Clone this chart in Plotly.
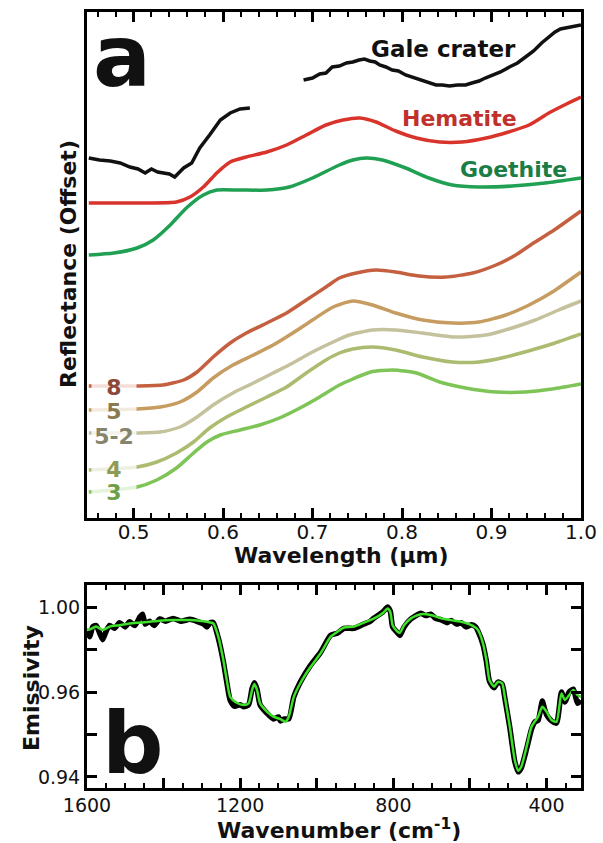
import plotly.graph_objects as go

W, H = 603, 843
FONT = "DejaVu Sans"

# ---------------- Panel a data (relative reflectance, offset, arbitrary units) -------------
gale_wl = [0.45, 0.462, 0.474, 0.485, 0.496, 0.505, 0.513, 0.520, 0.527, 0.533, 0.540, 0.546,
           0.551, 0.556, 0.565, 0.574, 0.585, 0.597, 0.608, 0.619, 0.630,
           0.66,
           0.690, 0.700, 0.708, 0.715, 0.722, 0.730, 0.738, 0.745, 0.752, 0.758, 0.764, 0.770,
           0.775, 0.782, 0.789, 0.796, 0.804, 0.811, 0.819, 0.828, 0.838, 0.845, 0.853, 0.862,
           0.871, 0.878, 0.886, 0.893, 0.901, 0.910, 0.920, 0.929, 0.938, 0.947, 0.956, 0.963,
           0.971, 0.977, 0.983, 0.990, 0.997, 1.0]
gale_r = [3.60, 3.58, 3.57, 3.55, 3.51, 3.49, 3.45, 3.49, 3.46, 3.45, 3.44, 3.41,
          3.46, 3.50, 3.55, 3.70, 3.83, 3.98, 4.05, 4.09, 4.10,
          None,
          4.38, 4.40, 4.44, 4.45, 4.51, 4.52, 4.55, 4.56, 4.58, 4.59, 4.57, 4.56,
          4.53, 4.51, 4.48, 4.47, 4.43, 4.41, 4.38, 4.36, 4.33, 4.33, 4.32, 4.33,
          4.33, 4.35, 4.37, 4.40, 4.43, 4.46, 4.51, 4.55, 4.61, 4.67, 4.75, 4.80,
          4.86, 4.89, 4.90, 4.91, 4.93, 4.93]

hem_wl = [0.45, 0.515, 0.548, 0.563, 0.578, 0.593, 0.608, 0.626, 0.649, 0.671, 0.693, 0.715,
          0.734, 0.753, 0.771, 0.793, 0.816, 0.842, 0.867, 0.894, 0.919, 0.942, 0.964, 0.986, 1.0]
hem_r = [3.15, 3.15, 3.16, 3.21, 3.31, 3.45, 3.56, 3.61, 3.66, 3.73, 3.83, 3.93,
         3.98, 4.00, 3.96, 3.87, 3.80, 3.76, 3.76, 3.80, 3.86, 3.93, 4.05, 4.15, 4.21]

goe_wl = [0.45, 0.478, 0.504, 0.522, 0.541, 0.559, 0.578, 0.593, 0.619, 0.649, 0.674, 0.700,
          0.730, 0.745, 0.760, 0.778, 0.804, 0.830, 0.856, 0.886, 0.923, 0.960, 1.0]
goe_r = [2.63, 2.65, 2.70, 2.78, 2.93, 3.10, 3.23, 3.28, 3.28, 3.28, 3.31, 3.40,
         3.53, 3.58, 3.60, 3.58, 3.50, 3.40, 3.33, 3.31, 3.32, 3.35, 3.40]

s8_wl = [0.45, 0.504, 0.533, 0.556, 0.571, 0.589, 0.608, 0.626, 0.649, 0.671, 0.693, 0.715,
         0.730, 0.749, 0.771, 0.793, 0.819, 0.849, 0.879, 0.905, 0.927, 0.947, 0.970, 1.0]
s8_r = [1.32, 1.32, 1.33, 1.38, 1.46, 1.61, 1.75, 1.85, 1.95, 2.05, 2.18, 2.31,
        2.40, 2.45, 2.48, 2.46, 2.42, 2.41, 2.45, 2.53, 2.63, 2.75, 2.88, 3.07]

s5_wl = [0.45, 0.504, 0.530, 0.552, 0.571, 0.589, 0.611, 0.634, 0.656, 0.678, 0.700, 0.723,
         0.745, 0.767, 0.793, 0.823, 0.856, 0.886, 0.916, 0.942, 0.968, 1.0]
s5_r = [1.08, 1.09, 1.11, 1.16, 1.26, 1.40, 1.53, 1.63, 1.73, 1.85, 1.98, 2.11,
        2.17, 2.13, 2.05, 1.98, 1.95, 1.96, 2.03, 2.13, 2.26, 2.46]

s52_wl = [0.45, 0.504, 0.530, 0.552, 0.571, 0.589, 0.611, 0.634, 0.656, 0.678, 0.700, 0.723,
          0.741, 0.767, 0.793, 0.823, 0.860, 0.894, 0.923, 0.949, 0.975, 1.0]
s52_r = [0.85, 0.85, 0.86, 0.91, 1.01, 1.13, 1.25, 1.35, 1.45, 1.55, 1.66, 1.76,
         1.83, 1.88, 1.88, 1.85, 1.81, 1.83, 1.90, 1.98, 2.08, 2.17]

s4_wl = [0.45, 0.504, 0.526, 0.548, 0.567, 0.585, 0.604, 0.626, 0.649, 0.671, 0.693, 0.715,
         0.730, 0.745, 0.767, 0.793, 0.823, 0.856, 0.886, 0.916, 0.945, 0.971, 1.0]
s4_r = [0.48, 0.51, 0.56, 0.65, 0.76, 0.90, 1.01, 1.11, 1.21, 1.31, 1.45, 1.58,
        1.65, 1.69, 1.71, 1.68, 1.61, 1.56, 1.56, 1.61, 1.68, 1.75, 1.84]

s3_wl = [0.45, 0.504, 0.526, 0.548, 0.567, 0.582, 0.597, 0.619, 0.641, 0.663, 0.686, 0.708,
         0.730, 0.745, 0.765, 0.790, 0.816, 0.842, 0.871, 0.905, 0.938, 0.968, 1.0]
s3_r = [0.26, 0.31, 0.38, 0.50, 0.65, 0.76, 0.83, 0.88, 0.93, 1.00, 1.10, 1.21,
        1.33, 1.39, 1.46, 1.48, 1.45, 1.36, 1.30, 1.26, 1.26, 1.29, 1.34]

sample_labels = ["8", "5", "5-2", "4", "3"]

wl_ticks = [0.5, 0.6, 0.7, 0.8, 0.9, 1.0]
wl_ticktext = ["0.5", "0.6", "0.7", "0.8", "0.9", "1.0"]

# ---------------- Panel b data (emissivity) -------------
wn_fit = [1600, 1593, 1576, 1559, 1541, 1515, 1489, 1462, 1436, 1410, 1375, 1331, 1287, 1270,
          1257, 1244, 1235, 1226, 1209, 1191, 1178, 1169, 1163, 1156, 1148, 1130, 1113, 1095,
          1082, 1073, 1060, 1043, 1016, 990, 964, 946, 929, 903, 877, 850, 828, 815, 808, 802,
          793, 783, 772, 754, 728, 702, 675, 649, 623, 596, 579, 566, 557, 549, 537, 527, 516,
          509, 496, 483, 474, 466, 452, 439, 422, 411, 400, 387, 374, 361, 352, 341, 330, 319, 310]
em_fit = [0.9921, 0.9921, 0.9931, 0.9919, 0.9931, 0.9936, 0.9942, 0.9945, 0.9948, 0.9952,
          0.9954, 0.9954, 0.9948, 0.9942, 0.9895, 0.9813, 0.9742, 0.9683, 0.9662, 0.9654,
          0.9660, 0.9707, 0.9728, 0.9707, 0.9660, 0.9631, 0.9613, 0.9604, 0.9595, 0.9613,
          0.9683, 0.9731, 0.9789, 0.9837, 0.9895, 0.9913, 0.9928, 0.9931, 0.9945, 0.9960,
          0.9978, 0.9995, 0.9983, 0.9936, 0.9919, 0.9909, 0.9936, 0.9960, 0.9975, 0.9972,
          0.9960, 0.9954, 0.9948, 0.9936, 0.9919, 0.9872, 0.9813, 0.9742, 0.9719, 0.9736,
          0.9731, 0.9683, 0.9578, 0.9460, 0.9422, 0.9436, 0.9507, 0.9578, 0.9613, 0.9648,
          0.9631, 0.9601, 0.9595, 0.9695, 0.9672, 0.9689, 0.9707, 0.9689, 0.9683]

wn_meas = [1600, 1593, 1585, 1576, 1566, 1559, 1550, 1541, 1528, 1515, 1500, 1489, 1475, 1462,
           1455, 1448, 1436, 1425, 1410, 1395, 1375, 1355, 1331, 1310, 1295, 1287, 1278, 1270,
           1257, 1244, 1235, 1226, 1215, 1200, 1191, 1178, 1169, 1163, 1156, 1148, 1130, 1113,
           1100, 1095, 1085, 1073, 1060, 1043, 1016, 990, 964, 946, 929, 903, 877, 860, 850,
           828, 815, 808, 802, 793, 783, 772, 754, 728, 715, 702, 690, 675, 660, 649, 635, 623,
           610, 596, 585, 579, 566, 557, 549, 537, 527, 516, 509, 496, 483, 474, 466, 452, 439,
           430, 422, 411, 405, 400, 387, 374, 361, 352, 341, 330, 319, 310]
em_meas = [0.9915, 0.9895, 0.9930, 0.9935, 0.9905, 0.9885, 0.9915, 0.9935, 0.9925, 0.9945,
           0.9930, 0.9948, 0.9935, 0.9965, 0.9975, 0.9940, 0.9950, 0.9935, 0.9958, 0.9950,
           0.9960, 0.9950, 0.9957, 0.9948, 0.9940, 0.9930, 0.9945, 0.9945, 0.9890, 0.9808,
           0.9735, 0.9670, 0.9650, 0.9655, 0.9648, 0.9655, 0.9712, 0.9733, 0.9710, 0.9655,
           0.9625, 0.9605, 0.9612, 0.9598, 0.9605, 0.9605, 0.9683, 0.9735, 0.9795, 0.9840,
           0.9900, 0.9908, 0.9925, 0.9925, 0.9940, 0.9950, 0.9962, 0.9982, 1.0000, 0.9985,
           0.9930, 0.9915, 0.9900, 0.9930, 0.9958, 0.9978, 0.9970, 0.9975, 0.9960, 0.9955,
           0.9945, 0.9953, 0.9940, 0.9945, 0.9930, 0.9938, 0.9930, 0.9915, 0.9868, 0.9808,
           0.9738, 0.9715, 0.9735, 0.9728, 0.9680, 0.9575, 0.9455, 0.9418, 0.9432, 0.9500,
           0.9570, 0.9595, 0.9600, 0.9668, 0.9640, 0.9620, 0.9598, 0.9590, 0.9700, 0.9665,
           0.9700, 0.9710, 0.9660, 0.9670]

wn_ticks = [1600, 1400, 1200, 1000, 800, 600, 400]
wn_ticktext = ["1600", " ", "1200", " ", "800", " ", "400"]
em_ticks = [1.00, 0.985, 0.97, 0.955, 0.94]
em_ticktext = ["1.00", " ", "0.96", " ", "0.94"]

# ---------------- layout helpers -------------
def px_x(p):
    return p / W

def px_y(p):
    return 1 - p / H

fig = go.Figure()

series_a = [
    (gale_wl, gale_r, "#111111", "linear", 3.5),
    (hem_wl, hem_r, "#d8342c", "spline", 3.5),
    (goe_wl, goe_r, "#20a052", "spline", 3.5),
    (s8_wl, s8_r, "#c4603f", "spline", 3.5),
    (s5_wl, s5_r, "#c69c60", "spline", 3.5),
    (s52_wl, s52_r, "#c4c29c", "spline", 3.5),
    (s4_wl, s4_r, "#abbb70", "spline", 3.5),
    (s3_wl, s3_r, "#7ec456", "spline", 3.5),
]
for xs, ys, col, shape, w in series_a:
    fig.add_trace(go.Scatter(x=xs, y=ys, mode="lines", xaxis="x", yaxis="y",
                             line=dict(color=col, width=w, shape=shape, smoothing=0.6),
                             connectgaps=False, showlegend=False, hoverinfo="skip"))

fig.add_trace(go.Scatter(x=wn_meas, y=em_meas, mode="lines", xaxis="x2", yaxis="y2",
                         line=dict(color="#000000", width=5.5, shape="spline", smoothing=0.6),
                         showlegend=False, hoverinfo="skip"))
fig.add_trace(go.Scatter(x=wn_fit, y=em_fit, mode="lines", xaxis="x2", yaxis="y2",
                         line=dict(color="#3ee02a", width=2.5, shape="spline", smoothing=0.6),
                         showlegend=False, hoverinfo="skip"))

axis_common = dict(showline=True, linecolor="black", linewidth=3, mirror="allticks",
                   showgrid=False, zeroline=False, automargin=False,
                   tickfont=dict(family=FONT, size=19, color="#111111"))

xdom = [87 / W, 581 / W]
fig.update_layout(
    width=W, height=H,
    margin=dict(l=0, r=0, t=0, b=0),
    paper_bgcolor="white", plot_bgcolor="white",
    xaxis=dict(domain=xdom, anchor="y", range=[0.448, 1.0],
               tickmode="array", tickvals=wl_ticks, ticktext=wl_ticktext,
               ticks="inside", ticklen=10, tickwidth=2.5, tickcolor="black",
               ticklabelstandoff=-6,
               minor=dict(dtick=0.02, tick0=0.44, ticks="inside", ticklen=5, tickwidth=2,
                          tickcolor="black"),
               **{**axis_common, "tickfont": dict(family=FONT, size=20, color="#111111")}),
    yaxis=dict(domain=[1 - 518 / H, 1 - 12 / H], anchor="x", range=[0, 5.06],
               showticklabels=False, ticks="", **{k: v for k, v in axis_common.items() if k != "tickfont"}),
    xaxis2=dict(domain=xdom, anchor="y2", range=[1600, 310],
                tickmode="array", tickvals=wn_ticks, ticktext=wn_ticktext,
                ticks="inside", ticklen=10, tickwidth=2.5, tickcolor="black",
                ticklabelstandoff=-2,
                minor=dict(dtick=50, tick0=0, ticks="inside", ticklen=5, tickwidth=2,
                           tickcolor="black"),
                **axis_common),
    yaxis2=dict(domain=[1 - 788 / H, 1 - 585 / H], anchor="x2", range=[0.9361, 1.0078],
                tickmode="array", tickvals=em_ticks, ticktext=em_ticktext,
                ticks="inside", ticklen=10, tickwidth=2.5, tickcolor="black",
                **axis_common),
)

annotations = []
def ann(text, x, y, size, color="#111111", bold=True, angle=0, **kw):
    t = f"<b>{text}</b>" if bold else text
    d = dict(text=t, x=px_x(x), y=px_y(y), xref="paper", yref="paper",
             showarrow=False, xanchor="center", yanchor="middle", textangle=angle,
             font=dict(family=FONT, size=size, color=color))
    d.update(kw)
    annotations.append(d)

# panel letters
ann("a", 122, 56, 86)
ann("b", 133, 743, 86)
# curve labels
ann("Gale crater", 443, 49, 23)
ann("Hematite", 459, 119, 22, color="#c1302a")
ann("Goethite", 513, 169, 22, color="#1b7d46")
# sample labels with translucent white background
label_y = [387, 411, 436, 469, 492]
label_col = ["#8c4838", "#8a7a52", "#85846c", "#8e9a56", "#6e9e48"]
for txt, yy, col in zip(sample_labels, label_y, label_col):
    ann(txt, 114, yy, 22, color=col, bgcolor="rgba(255,255,255,0.8)", width=44, height=20,
        borderpad=0)
# axis titles
ann("Wavelength (µm)", 341, 555, 22)
ann("Reflectance (Offset)", 68, 264, 22, angle=-90)
ann("Wavenumber (cm<sup>-1</sup>)", 339, 829, 22)
ann("Emissivity", 31, 688, 22, angle=-90)

fig.update_layout(annotations=annotations)

fig.write_html("out.html", config={"displayModeBar": False},
               post_script="document.body.style.margin='0';document.body.style.overflow='hidden';")
